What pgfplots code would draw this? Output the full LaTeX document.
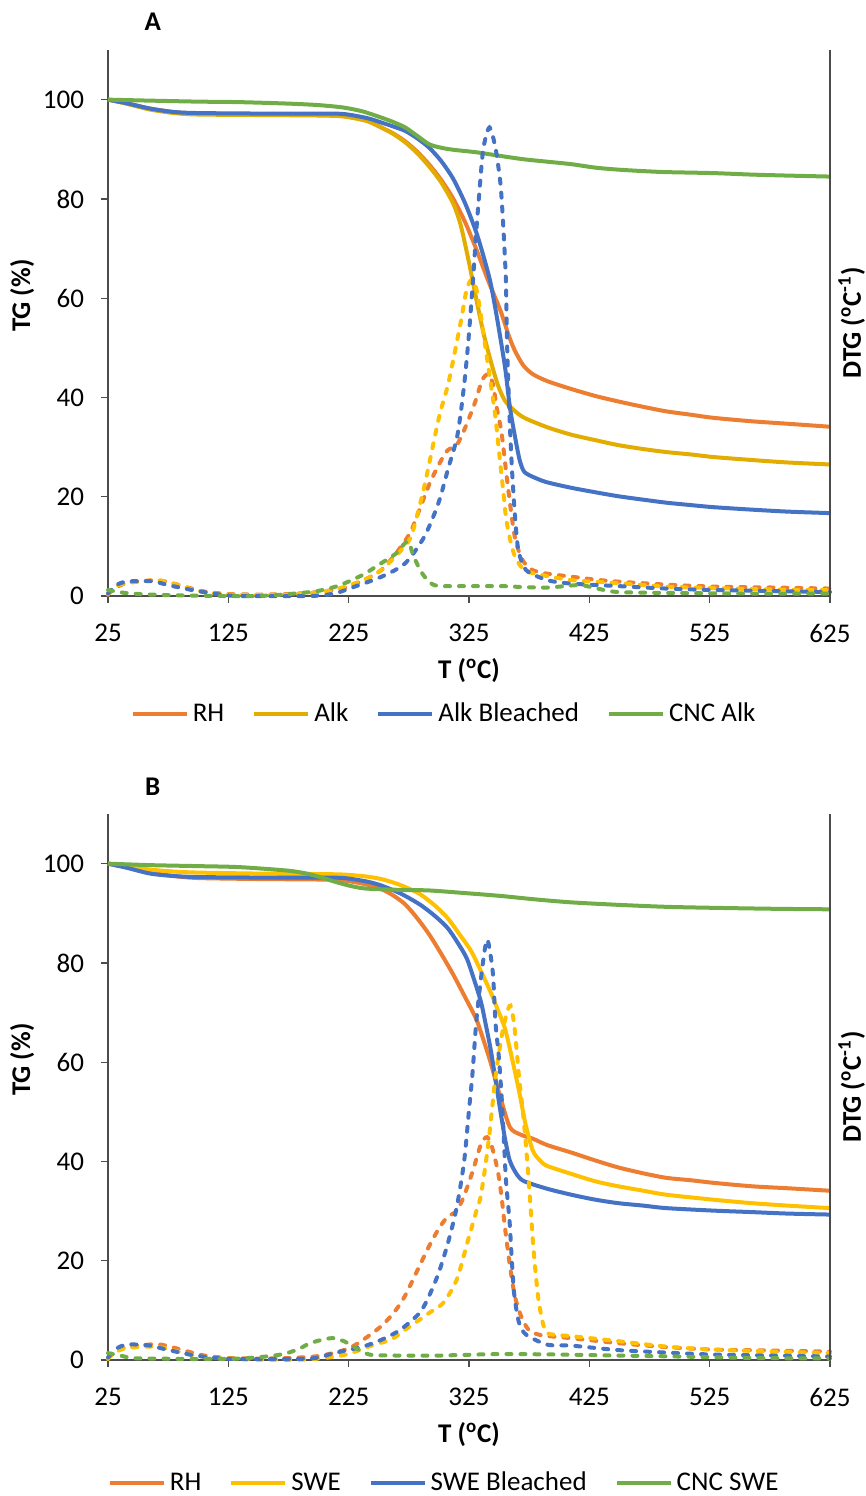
\documentclass[border=0pt]{standalone}
\usepackage{fontspec}
\setmainfont{Carlito}
\usepackage{pgfplots}
\pgfplotsset{compat=1.18}
\definecolor{rhc}{HTML}{ED7D31}
\definecolor{alkc}{HTML}{E2AC00}
\definecolor{yelc}{HTML}{FFC000}
\definecolor{bluc}{HTML}{4472C4}
\definecolor{grnc}{HTML}{70AD47}
\newcommand{\ff}{\fontsize{13.5}{16}\selectfont}

\pgfplotsset{
  tga/.style={
    width=361pt, height=273pt, scale only axis, clip=false,
    xmin=25, xmax=625, ymin=0, ymax=110,
    xtick={25,125,...,625}, ytick={0,20,...,100},
    axis x line*=bottom, axis y line*=left,
    axis line style={black!70, line width=0.6pt},
    tick style={black!70, line width=0.6pt},
    tick align=outside, major tick length=3.5pt,
    tick label style={font=\ff},
    xticklabel style={yshift=-7pt},
    yticklabel style={xshift=-5pt},
    /pgf/number format/assume math mode=true,
    xlabel={\textbf{T (\textsuperscript{o}C)}},
    ylabel={\textbf{TG (\%)}},
    label style={font=\ff},
    xlabel style={at={(axis description cs:0.5,-0.137)}, anchor=center},
    ylabel style={at={(axis description cs:-0.119,0.55)}, anchor=center},
    legend style={anchor=center,
      draw=none, fill=none, legend columns=4,
      font=\ff, nodes={inner xsep=2pt},
      /tikz/every even column/.append style={column sep=12pt}},
    legend image code/.code={\draw[#1] (0pt,0pt) -- (27pt,0pt);},
    legend cell align=left,
  },
  tg/.style={line width=2pt, smooth, tension=0.45},
  dtg/.style={line width=2pt, smooth, tension=0.45, line cap=round, dash pattern=on 2.5pt off 4.5pt, forget plot},
}

\begin{document}
\begin{tikzpicture}
% ---------------- panel A ----------------
\begin{axis}[tga, name=A, legend style={at={(axis description cs:0.467,-0.216)}}]
\addplot[tg, rhc] coordinates {(25,100)(40,99.3)(60,98.2)(80,97.5)(100,97.2)(150,97.0)(200,96.9)(221,96.7)(240,95.8)(252,94.4)(262,93.2)(272,91.6)(282,89.5)(292,86.9)(302,83.8)(312,80)(322,75.2)(331,69.9)(341,63.5)(351,57.6)(358,52.5)(363,49.5)(370,46.5)(378,44.7)(390,43.3)(410,41.7)(430,40.3)(449,39.2)(470,38.1)(489,37.2)(510,36.5)(528,35.9)(560,35.2)(590,34.7)(625,34.1)};
\addlegendentry{RH}
\addplot[tg, alkc] coordinates {(25,100)(40,99.2)(60,98.0)(80,97.3)(100,97.0)(150,96.9)(200,96.8)(221,96.6)(240,95.7)(252,94.4)(262,93.1)(272,91.4)(282,89.2)(292,86.5)(302,83.3)(312,79)(318,74.8)(323,69.5)(327,64.8)(331,59.9)(337,53)(343,47.4)(349,42.5)(355,39.3)(363,37.3)(371,35.9)(390,34)(410,32.5)(430,31.4)(449,30.4)(470,29.6)(489,29)(510,28.5)(528,28)(560,27.4)(590,26.9)(625,26.5)};
\addlegendentry{Alk}
\addplot[tg, bluc] coordinates {(25,100)(40,99.3)(60,98.2)(80,97.5)(100,97.3)(150,97.2)(200,97.2)(221,97.1)(240,96.3)(252,95.4)(262,94.6)(272,93.7)(282,92.2)(292,90.3)(302,87.6)(312,84)(322,79)(331,73.3)(337,68.5)(343,63)(349,55)(355,46)(359,38)(363,32.4)(367,27.5)(371,25)(380,23.8)(390,22.9)(410,21.8)(430,20.9)(449,20.1)(470,19.4)(489,18.8)(510,18.3)(528,17.9)(560,17.4)(590,17)(625,16.7)};
\addlegendentry{Alk Bleached}
\addplot[tg, grnc] coordinates {(25,100)(60,99.8)(100,99.6)(134,99.5)(175,99.2)(200,98.9)(221,98.4)(237,97.6)(252,96.4)(262,95.5)(272,94.4)(282,92.7)(292,91)(302,90.3)(312,89.9)(331,89.4)(350,88.7)(370,88)(390,87.5)(410,87)(430,86.3)(449,85.9)(470,85.6)(489,85.4)(528,85.2)(560,84.9)(590,84.7)(625,84.5)};
\addlegendentry{CNC Alk}
% DTG
\addplot[dtg, rhc] coordinates {(25,0.3)(30,1.5)(40,2.6)(55,3.0)(65,3.2)(75,2.8)(90,1.8)(105,0.9)(125,0.4)(150,0.3)(175,0.4)(200,0.8)(221,1.6)(240,3.5)(252,5.2)(264,8.5)(276,12.7)(284,17.5)(292,22.5)(300,26.5)(307,29.3)(315,30.5)(322,34)(330,39)(336,43.5)(341,44.7)(345,42.6)(348,38)(352,33)(355.6,25.6)(359,18.8)(363,12)(367,8.6)(371,6.7)(378,5.2)(390,4.5)(410,3.9)(430,3.3)(449,2.9)(489,2.3)(528,1.9)(580,1.7)(625,1.5)};
\addplot[dtg, yelc] coordinates {(25,0.3)(30,1.8)(40,2.6)(55,3)(65,3.2)(75,2.8)(90,1.7)(105,0.8)(125,0.3)(150,0.2)(175,0.3)(200,0.7)(221,1.8)(240,3.5)(252,5.2)(266,8.5)(276,11.5)(281,15.4)(288,22.2)(300,35.9)(307.6,42.6)(313.5,49.5)(319,56.3)(323,61.7)(327,63.7)(331,62)(335,56.3)(339,49.5)(343,43)(347,36)(350,29)(353,22.2)(356,15.4)(360,10.5)(364,7.5)(371,5.2)(380,4.5)(410,3.2)(449,2.6)(489,1.9)(528,1.6)(580,1.3)(625,1.2)};
\addplot[dtg, bluc] coordinates {(25,0.5)(32,2.2)(40,2.9)(55,3.0)(64,2.9)(75,2.2)(95,1.2)(115,0.4)(134,0)(193,0)(213,0.5)(229,1.8)(252.5,3.9)(272,6.6)(288,12)(299.7,18.8)(307.6,25.6)(315.4,32.4)(321,42.6)(325,52.9)(329,66)(331,73.3)(334.3,83.4)(337,90.3)(342,94.4)(347,90.3)(351,83.4)(353,76.6)(355.6,64)(356.8,49.5)(358.7,35.9)(360.7,25.6)(362.7,18)(364.6,12)(366.6,8.6)(372.5,5.2)(390,3.2)(410,2.5)(449,2)(489,1.5)(528,1.2)(580,1)(625,0.8)};
\addplot[dtg, grnc] coordinates {(25,1.2)(40,0.6)(60,0.3)(90,0.1)(150,0)(193,0.8)(210,1.6)(221,2.5)(237,4.3)(252,6.6)(264,8.5)(274,11)(279,8)(286,4.6)(296,2.2)(320,2)(351,2)(370,1.8)(390,1.7)(405,2)(418,2.2)(430,1.6)(449,0.8)(500,0.6)(560,0.5)(625,0.5)};
\draw[black!70, line width=0.6pt] (rel axis cs:1,0) -- (rel axis cs:1,1);
\node[rotate=90, font=\ff\bfseries] at (rel axis cs:1.030,0.5) {DTG (\textsuperscript{o}C\textsuperscript{-1})};
\node[font=\ff\bfseries] at (rel axis cs:0.062,1.051) {A};
\end{axis}

% ---------------- panel B ----------------
\begin{axis}[tga, name=B, at={(0,-382pt)}, legend style={at={(axis description cs:0.467,-0.225)}}]
\addplot[tg, rhc] coordinates {(25,100)(40,99.3)(60,98.2)(80,97.5)(100,97.1)(150,96.9)(200,96.8)(221,96.6)(240,95.8)(252,94.9)(262,93.6)(272,91.8)(282,89)(292,85.7)(302,81.8)(312,77.6)(322,73)(331,68.7)(337,64.5)(343,59.9)(351,53)(359,46.9)(368,45.4)(378,44.6)(390,43.3)(410,41.8)(430,40.2)(449,38.8)(470,37.6)(489,36.7)(510,36.2)(528,35.7)(560,35)(590,34.6)(625,34.1)};
\addlegendentry{RH}
\addplot[tg, yelc] coordinates {(25,100)(40,99.4)(60,98.8)(80,98.4)(100,98.2)(150,98)(200,97.9)(221,97.8)(240,97.4)(252,96.9)(262,96.2)(272,95.3)(284,93.9)(296,91.7)(307,89.1)(317,85.8)(327,82.3)(335,78.3)(343,74.1)(349,70.5)(355,66.7)(361,60.5)(367,53.7)(372,47.5)(378,42.2)(384,40.2)(390,39.1)(410,37.5)(430,36)(449,35)(470,34.1)(489,33.3)(528,32.3)(560,31.6)(590,31.1)(625,30.6)};
\addlegendentry{SWE}
\addplot[tg, bluc] coordinates {(25,100)(40,99.2)(60,98)(80,97.5)(100,97.3)(150,97.2)(200,97.2)(221,97.1)(240,96.4)(252,95.6)(268,94)(284,91.8)(296,89.6)(307,87.1)(315,84.3)(323,81)(329,76.8)(335,72.1)(339,67.5)(343,62.6)(347,56.5)(351,50.3)(355,44.5)(359,40.1)(365,37.3)(371,36)(390,34.5)(410,33.3)(430,32.3)(449,31.6)(470,31.1)(489,30.6)(528,30.1)(560,29.8)(590,29.5)(625,29.3)};
\addlegendentry{SWE Bleached}
\addplot[tg, grnc] coordinates {(25,100)(60,99.7)(100,99.5)(134,99.3)(174,98.6)(190,98)(201,97.3)(213,96.4)(225,95.6)(235,95.1)(245,94.9)(270,94.7)(292,94.6)(320,94.1)(351,93.5)(380,92.8)(410,92.2)(449,91.7)(489,91.3)(528,91.1)(580,90.9)(625,90.8)};
\addlegendentry{CNC SWE}
% DTG
\addplot[dtg, rhc] coordinates {(25,0.3)(30,1.5)(40,2.6)(55,3.0)(65,3.2)(75,2.8)(90,1.8)(105,0.9)(125,0.4)(150,0.3)(175,0.4)(200,0.8)(221,2)(233,3.4)(252,6.8)(264,10)(272,13)(282,18)(292,23)(300,26.5)(307,28.8)(314,29.9)(320,32.5)(328,38)(335,43.5)(340,44.9)(344,43)(349,38)(352,33)(355,26.5)(359,19)(363,13)(368,9)(374.5,6.1)(385,5)(410,4.4)(449,3.4)(489,2.6)(528,2.1)(580,1.9)(625,1.7)};
\addplot[dtg, yelc] coordinates {(25,0.2)(30,1.5)(40,2.4)(50,2.6)(60,2.7)(70,2.5)(85,1.6)(100,0.8)(125,0.3)(150,0.1)(190,0.1)(221,1.0)(245,3.0)(260,4.1)(272,6.1)(292,9.5)(304,11.6)(315,16.3)(323,23.1)(331,29.9)(335,33.3)(341,43.5)(347,57)(352,65)(356,69.5)(359.5,71.4)(362.7,67.3)(366.6,57)(370.5,48.3)(374.5,36.7)(378.4,23)(382.3,13)(386.3,7.5)(390.2,5.4)(400,5)(410,4.8)(449,3.8)(489,2.7)(528,2.1)(580,1.7)(625,1.4)};
\addplot[dtg, bluc] coordinates {(25,0.5)(32,2.3)(40,3.1)(50,3.1)(60,2.9)(72,2.2)(95,1)(115,0.4)(134,0.2)(193,0.3)(213,1.4)(236.7,2.7)(252.5,4.1)(268,6.1)(284,9.5)(291.8,12.9)(300,17.7)(308,24)(315,31)(321,40.1)(325,50.3)(328,58)(331,68)(335,77)(338,82.5)(340,84.7)(342,83)(345,77.5)(347,68)(350,60.5)(352.8,50.3)(355.6,36.7)(358.7,28)(360.7,19.7)(362.7,13)(366.6,7.5)(372.5,5.1)(390,3.1)(410,2.9)(449,2)(489,1.5)(528,1.1)(580,0.9)(625,0.7)};
\addplot[dtg, grnc] coordinates {(25,1.4)(35,0.9)(45,0.4)(60,0.3)(100,0.2)(134,0.3)(160,0.8)(174,1.4)(185,2.4)(193,3.4)(205,4.2)(213,4.4)(221,3.8)(229,2.7)(237,1.6)(245,1)(270,0.9)(300,0.9)(351,1.2)(400,1.1)(449,0.9)(500,0.7)(560,0.4)(625,0.3)};
\draw[black!70, line width=0.6pt] (rel axis cs:1,0) -- (rel axis cs:1,1);
\node[rotate=90, font=\ff\bfseries] at (rel axis cs:1.030,0.5) {DTG (\textsuperscript{o}C\textsuperscript{-1})};
\node[font=\ff\bfseries] at (rel axis cs:0.062,1.05) {B};
\end{axis}
\pgfresetboundingbox
\path[use as bounding box] (-54pt,-450pt) rectangle (379pt,298pt);
\end{tikzpicture}
\end{document}
